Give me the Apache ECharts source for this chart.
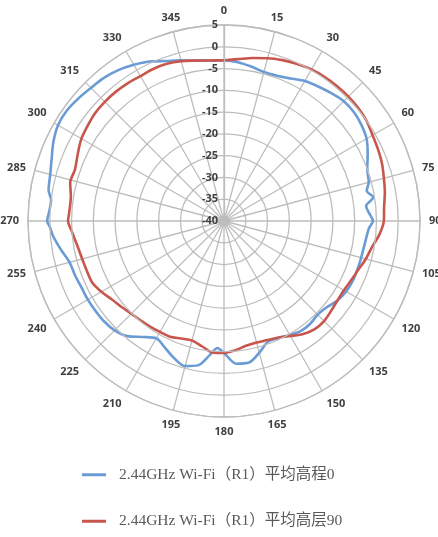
<!DOCTYPE html>
<html>
<head>
<meta charset="utf-8">
<script src="https://cdn.jsdelivr.net/npm/echarts@6/dist/echarts.min.js"></script>
<style>
html,body{margin:0;padding:0;background:#fff;}
#chart{width:438px;height:537px;}
</style>
</head>
<body>
<div id="chart"></div>
<script>
const seriesNames = ['2.44GHz Wi-Fi（R1）平均高程0', '2.44GHz Wi-Fi（R1）平均高层90'];

const blueAngles = [0,5,10,15,20,25,30,35,40,45,50,55,60,65,70,75,78,81,84,87,90,93,100,105,110,115,120,125,130,135,140,145,150,155,160,165,170,175,180,183,186,190,195,200,205,210,215,220,225,230,235,240,245,250,255,260,265,268,270,273,277,280,285,290,295,300,305,310,315,320,325,330,335,340,345,350,355,360];
const blueValues = [-3.1,-3.4,-4.0,-4.6,-4.5,-3.9,-2.9,-2.3,-1.7,-1.1,-1.1,-1.5,-2.2,-3.6,-5.0,-5.6,-6.5,-5.3,-7.2,-6.6,-5.8,-6.7,-7.3,-7.4,-7.4,-7.4,-7.6,-8.2,-9.2,-9.6,-9.2,-9.2,-9.8,-10.3,-10.5,-8.7,-7.0,-7.1,-9.7,-10.8,-9.1,-6.4,-5.5,-6.5,-7.9,-8.9,-7.5,-5.5,-4.5,-4.1,-4.0,-3.9,-3.9,-3.6,-3.3,-2.0,-0.6,0.0,0.6,0.2,0.0,0.9,1.3,2.1,3.2,4.0,4.1,3.7,3.2,2.9,2.3,1.4,0.4,-0.9,-1.8,-2.6,-3.0,-3.1];

const redAngles = [0,5,10,15,20,25,30,35,40,45,50,55,60,65,70,75,80,85,90,95,100,105,110,115,120,125,130,135,140,145,150,155,160,165,170,175,180,185,190,195,200,205,210,215,220,225,230,235,240,245,250,255,260,266,270,273,279,284,289,295,300,305,310,315,320,325,330,335,340,345,350,355,360];
const redValues = [-3.1,-2.7,-2.0,-1.3,-0.7,-0.2,0.2,0.35,0.4,0.4,0.3,0.0,-0.6,-1.0,-1.4,-2.0,-2.5,-3.1,-3.3,-4.2,-5.5,-6.3,-7.2,-7.8,-8.2,-8.2,-7.9,-7.5,-7.6,-8.3,-9.5,-10.5,-10.9,-11.1,-10.9,-10.2,-9.7,-9.7,-10.8,-11.6,-11.3,-10.7,-10.6,-10.4,-10.2,-9.9,-9.3,-8.6,-7.5,-6.6,-6.5,-6.3,-5.9,-5.0,-4.2,-4.4,-4.4,-3.6,-3.8,-3.0,-2.2,-1.8,-1.4,-1.3,-1.3,-1.4,-1.6,-1.5,-1.6,-2.0,-2.6,-3.0,-3.1];

const radiusMin = -40, radiusMax = 5, radiusStep = 5;
const angleStep = 15;

function pairs(angles, values){ return angles.map((a,i)=>[values[i], a]); }

const chart = echarts.init(document.getElementById('chart'), null, {renderer:'canvas'});
const gridColor = '#bdbdbd';
const labelFont = {color:'#404040', fontFamily:'Open Sans, Noto Sans, sans-serif', fontWeight:'bold', fontSize:11};
chart.setOption({
  animation:false,
  backgroundColor:'#fff',
  polar:{center:[224,221], radius:196},
  angleAxis:{
    type:'value', min:0, max:360, interval:angleStep, startAngle:90, clockwise:true,
    axisLine:{show:true, lineStyle:{color:gridColor, width:1.3}},
    axisTick:{show:false},
    axisLabel:Object.assign({margin:9}, labelFont),
    splitLine:{show:true, lineStyle:{color:gridColor, width:1.3}}
  },
  radiusAxis:{
    type:'value', min:radiusMin, max:radiusMax, interval:radiusStep,
    axisLine:{show:true, lineStyle:{color:gridColor, width:1.3}},
    axisTick:{show:false},
    axisLabel:Object.assign({margin:6}, labelFont),
    splitLine:{show:true, lineStyle:{color:gridColor, width:1.3}},
    z:10
  },
  legend:{
    orient:'vertical', left:77, top:462, itemGap:31,
    icon:'rect', itemWidth:24, itemHeight:3,
    textStyle:{color:'#595959', fontFamily:'Liberation Serif, Noto Sans CJK SC, serif', fontSize:15.5, padding:[0,0,0,8]},
    data:seriesNames
  },
  series:[
    {name:seriesNames[0], type:'line', coordinateSystem:'polar', showSymbol:false, smooth:0.3,
     data:pairs(blueAngles, blueValues), lineStyle:{color:'#6b9bd5', width:2.6}, itemStyle:{color:'#6b9bd5'}},
    {name:seriesNames[1], type:'line', coordinateSystem:'polar', showSymbol:false, smooth:0.3,
     data:pairs(redAngles, redValues), lineStyle:{color:'#c9564c', width:2.6}, itemStyle:{color:'#c9564c'}}
  ]
});
</script>
</body>
</html>
